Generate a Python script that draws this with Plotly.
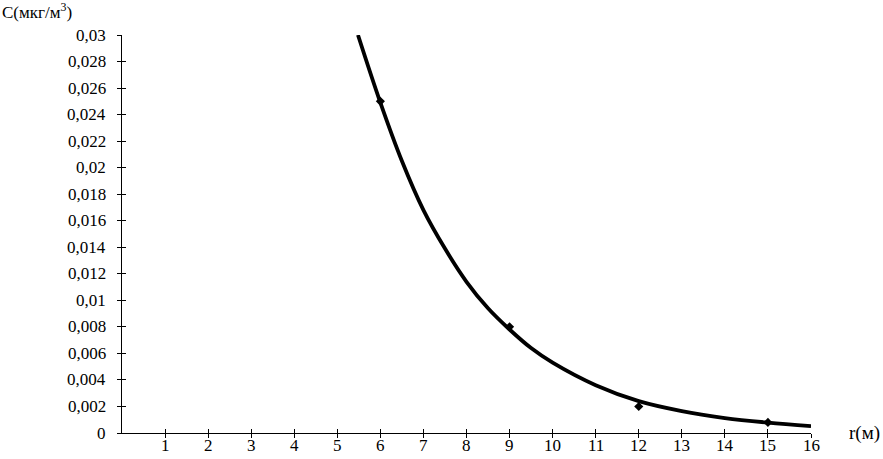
import plotly.graph_objects as go

# measured points
r_pts = [6, 9, 12, 15]
c_pts = [0.025, 0.008, 0.002, 0.0008]

# trend curve
r_fit = [5.48, 6, 6.5, 7, 7.5, 8, 8.5, 9, 9.5, 10, 11, 12, 13, 14, 15, 16]
c_fit = [0.0300, 0.0249, 0.0205, 0.0168, 0.0139, 0.0114, 0.0094, 0.0078,
         0.0064, 0.0053, 0.0036, 0.0024, 0.00165, 0.00113, 0.00078, 0.00052]

y_ticks = [0, 0.002, 0.004, 0.006, 0.008, 0.01, 0.012, 0.014, 0.016,
           0.018, 0.02, 0.022, 0.024, 0.026, 0.028, 0.03]
y_labels = ["0", "0,002", "0,004", "0,006", "0,008", "0,01", "0,012", "0,014",
            "0,016", "0,018", "0,02", "0,022", "0,024", "0,026", "0,028", "0,03"]
x_ticks = list(range(1, 17))

W, H = 883, 459
ML, MT = 122, 35
PW, PH = 689, 398
MR, MB = W - ML - PW, H - MT - PH

font = dict(family="Liberation Serif, DejaVu Serif, serif", size=17, color="black")

fig = go.Figure()
fig.add_trace(go.Scatter(x=r_fit, y=c_fit, mode="lines", line=dict(color="black", width=3.8, shape="spline"),
                         showlegend=False, hoverinfo="skip"))
fig.add_trace(go.Scatter(x=r_pts, y=c_pts, mode="markers",
                         marker=dict(symbol="diamond", size=7, color="black"), showlegend=False))
# invisible trace so the overlay axes (outer half of the crossing ticks) get drawn
fig.add_trace(go.Scatter(x=[0], y=[0], xaxis="x2", yaxis="y2", mode="markers",
                         marker=dict(opacity=0), showlegend=False, hoverinfo="skip"))

fig.update_layout(
    width=W, height=H,
    margin=dict(l=ML, r=MR, t=MT, b=MB, autoexpand=False),
    plot_bgcolor="white", paper_bgcolor="white",
    font=font,
    xaxis=dict(range=[0, 16], tickvals=x_ticks, ticks="inside", ticklen=4, tickcolor="black",
               showline=True, linecolor="black", linewidth=1.3, showgrid=False, zeroline=False,
               showticklabels=False),
    yaxis=dict(range=[0, 0.03], tickvals=y_ticks, ticks="inside", ticklen=4, tickcolor="black",
               showline=True, linecolor="black", linewidth=1.3, showgrid=False, zeroline=False,
               showticklabels=False),
    xaxis2=dict(range=[0, 16], overlaying="x", tickvals=x_ticks, ticks="outside", ticklen=4,
                tickcolor="black", showticklabels=False, showgrid=False, zeroline=False,
                showline=False, side="bottom"),
    yaxis2=dict(range=[0, 0.03], overlaying="y", tickvals=y_ticks, ticks="outside", ticklen=4,
                tickcolor="black", showticklabels=False, showgrid=False, zeroline=False,
                showline=False, side="left"),
)

# tick labels placed by hand-tuned offsets from the axes (wider gap than plotly's default)
for v, t in zip(y_ticks, y_labels):
    fig.add_annotation(text=t, xref="paper", yref="y", x=-14 / PW, y=v, xanchor="right",
                       yanchor="middle", showarrow=False, font=font)
for v in x_ticks:
    fig.add_annotation(text=str(v), xref="x", yref="paper", x=v, y=0, yshift=-1,
                       xanchor="center", yanchor="top", showarrow=False, font=font)

fig.add_annotation(text="C(мкг/м<sup>3</sup>)", xref="paper", yref="paper",
                   x=-ML / PW, y=1 + 24 / PH, xanchor="left", yanchor="middle",
                   showarrow=False, font=font)
fig.add_annotation(text="r(м)", xref="paper", yref="paper",
                   x=1 + 36 / PW, y=0, xanchor="left", yanchor="middle",
                   showarrow=False, font=dict(family=font["family"], size=19, color="black"))

# drop the browser's default body margin so the figure sits at the page corner
fig.write_html("out.html", config={"displayModeBar": False},
               post_script="document.body.style.margin='0';")
